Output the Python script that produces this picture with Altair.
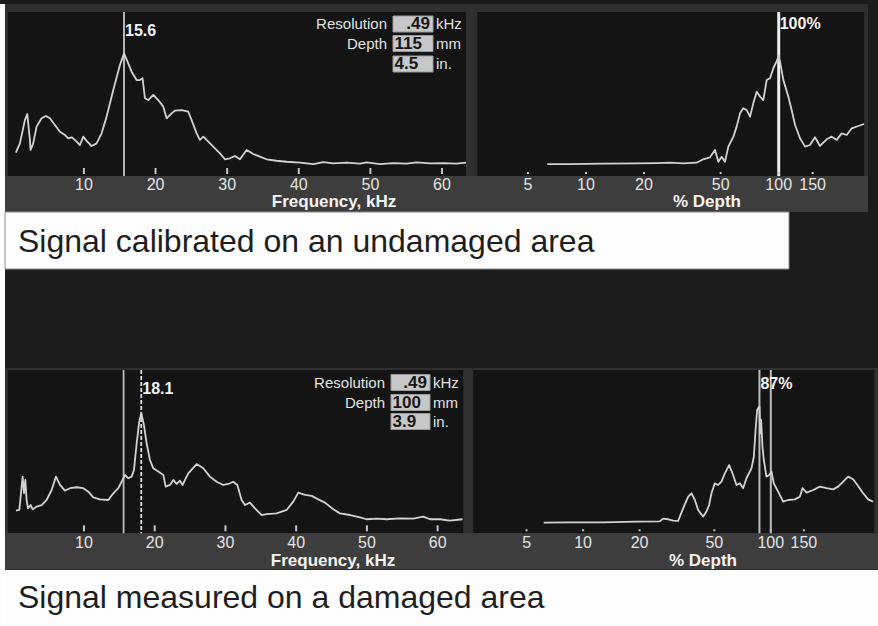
import altair as alt
import pandas as pd

W, H = 878, 626
FONT = "Liberation Sans"

# ---- calibrated signal (undamaged area): frequency spectrum ----
cal_freq = [0.50, 1.06, 1.76, 2.09, 2.46, 2.55, 2.92, 3.39, 4.09, 4.69,
            5.25, 5.95, 6.65, 7.35, 7.81, 8.28, 8.74, 9.44, 9.91, 10.47,
            11.07, 11.77, 12.47, 13.17, 14.10, 15.03, 15.6, 16.19, 16.66, 17.36,
            17.82, 18.19, 18.52, 18.99, 19.68, 20.38, 21.08, 21.55, 22.24, 22.71,
            23.64, 24.57, 25.04, 25.74, 26.20, 26.67, 27.37, 28.30, 28.99, 29.69,
            30.39, 31.09, 31.79, 32.72, 33.65, 34.58, 35.51, 36.91, 38.31, 40.17,
            42.03, 43.43, 44.82, 46.69, 48.55, 49.48, 51.34, 53.21, 55.07, 56.46,
            58.33, 60.19, 62.05, 63.35]
cal_amp = [14.2, 19.9, 34.1, 37.8, 22.0, 15.9, 19.9, 30.1, 35.2, 36.6,
           35.2, 31.1, 27.0, 25.0, 23.0, 23.6, 22.0, 18.9, 24.0, 20.9,
           18.3, 19.9, 26.0, 36.2, 52.4, 67.7, 74.8, 68.7, 63.6, 58.5,
           58.5, 59.6, 47.4, 46.3, 49.4, 46.3, 42.3, 35.2, 38.2, 39.8,
           40.2, 39.2, 34.1, 26.0, 22.0, 24.0, 20.9, 16.9, 13.8, 10.2,
           10.8, 12.2, 10.2, 15.9, 13.4, 11.8, 10.2, 9.3, 8.7, 8.1,
           7.3, 8.5, 7.7, 8.1, 7.5, 8.3, 7.3, 7.9, 7.5, 8.3,
           7.7, 7.9, 7.5, 8.1]

# ---- calibrated signal: % depth ----
cal_depth = [6.30, 8.26, 12.3, 18.3, 23.3, 27.3, 32.0, 37.5, 40.6, 44.0,
             46.7, 48.6, 50.6, 52.6, 54.8, 58.2, 60.5, 63.0, 65.5, 68.2,
             71.0, 73.8, 76.9, 80.0, 83.2, 86.6, 90.1, 93.8, 97.6, 100,
             102, 105.7, 112.2, 116.7, 121.6, 129.0, 137.0, 145.3, 154.2, 163.7,
             177.4, 188.3, 199.9, 212.2, 225.3, 239.2, 259.0, 277]
cal_depth_amp = [7.3, 7.3, 7.5, 7.7, 7.9, 8.1, 7.7, 8.1, 10.2, 11.4,
                 15.9, 8.7, 11.8, 8.7, 17.9, 24.0, 30.1, 38.2, 41.3, 40.2,
                 36.2, 44.3, 51.4, 48.4, 46.3, 58.5, 59.6, 65.7, 70.0, 73.2,
                 68.7, 58.5, 48.4, 40.2, 31.1, 23.0, 17.9, 18.9, 23.6, 18.3,
                 22.4, 24.0, 22.0, 26.0, 25.0, 29.1, 30.5, 31.7]

# ---- measured signal (damaged area): frequency spectrum ----
dmg_freq = [0.39, 0.86, 1.19, 1.33, 1.52, 1.71, 1.89, 2.08, 2.46, 2.74,
            3.31, 4.02, 4.72, 5.43, 6.04, 6.61, 7.31, 8.02, 8.96, 9.91,
            10.61, 11.32, 12.26, 13.44, 14.15, 14.85, 15.33, 15.80, 16.27, 16.74,
            17.07, 17.45, 17.82, 18.1, 18.48, 18.86, 19.33, 19.80, 20.51, 21.22,
            21.55, 22.16, 22.63, 23.10, 23.57, 23.95, 24.28, 24.75, 25.93, 26.87,
            27.81, 28.76, 29.70, 30.41, 31.11, 31.68, 32.29, 32.76, 33.47, 34.18,
            35.12, 35.82, 37.24, 38.65, 39.59, 40.30, 41.24, 42.19, 43.13, 44.07,
            45.25, 46.19, 47.61, 49.02, 49.96, 51.38, 52.79, 54.67, 56.56, 57.97,
            58.92, 60.33, 61.74, 63.53]
dmg_amp = [13.9, 14.3, 28.6, 34.7, 24.5, 32.7, 20.4, 15.3, 17.3, 14.7,
           16.3, 17.3, 20.4, 26.5, 34.7, 29.6, 26.1, 27.6, 28.2, 27.6,
           25.5, 22.0, 20.8, 20.4, 24.5, 27.6, 31.6, 35.7, 33.7, 34.7,
           38.8, 55.1, 68.4, 73.5, 66.3, 55.1, 44.9, 39.8, 37.8, 35.7,
           28.6, 29.6, 32.7, 30.2, 32.2, 29.6, 32.7, 36.7, 42.4, 39.8,
           34.7, 31.6, 29.6, 30.2, 31.6, 29.6, 20.4, 17.3, 18.8, 15.3,
           11.2, 11.8, 12.2, 14.3, 19.4, 24.9, 23.5, 22.9, 20.8, 18.8,
           14.7, 12.2, 11.2, 9.8, 8.6, 9.0, 8.6, 9.2, 9.0, 10.2,
           8.6, 8.6, 7.8, 8.6]

# ---- measured signal: % depth ----
dmg_depth = [6.17, 8.49, 12.8, 19.2, 25.6, 26.7, 28.4, 30.2, 32.1, 34.1,
             36.3, 37.8, 39.4, 41.0, 43.6, 45.4, 46.9, 48.3, 50.3, 52.4,
             54.6, 56.9, 60.0, 63.0, 65.6, 68.4, 71.2, 74.2, 78.9, 81.2,
             83.2, 84.6, 85.5, 87.0, 88.0, 88.8, 90.3, 91.8, 94.8, 98.0,
             100.9, 103.7, 109.4, 116.4, 123.7, 134.2, 142.8, 147.5, 155.0, 168.2,
             182.5, 198.1, 214.9, 228.5, 242.9, 258.2, 274.6, 291.9, 310.4, 330.0,
             350.8]
dmg_depth_amp = [6.5, 6.7, 6.7, 7.1, 7.3, 9.0, 8.6, 7.8, 7.6, 15.3,
                 22.4, 24.5, 20.4, 14.3, 10.2, 13.3, 17.3, 24.5, 30.6, 29.6,
                 31.6, 36.7, 41.8, 35.7, 29.6, 30.6, 27.6, 33.7, 39.8, 46.9,
                 65.3, 75.5, 76.5, 77.6, 61.2, 69.4, 53.1, 44.9, 34.7, 35.7,
                 37.8, 30.6, 25.5, 19.4, 20.4, 20.8, 22.4, 27.6, 24.9, 26.5,
                 28.6, 27.6, 26.9, 28.6, 31.6, 34.7, 33.1, 29.0, 24.5, 20.8,
                 19.4]

freq_ticks = [10, 20, 30, 40, 50, 60]
depth_ticks = [5, 10, 20, 50, 100, 150]

# readouts shown in the info block of each spectrum
info_labels = ["Resolution", "Depth", ""]
info_units = ["kHz", "mm", "in."]
cal_info = [".49", "115", "4.5"]
dmg_info = [".49", "100", "3.9"]

# cursor positions
cal_peak_freq, cal_peak_depth = 15.6, 100
dmg_peak_freq, dmg_peak_depth = 18.1, 87

captions = ["Signal calibrated on an undamaged area", "Signal measured on a damaged area"]

# ---------------------------------------------------------------- layout
panels = {
    "cal_f": dict(domain=[-0.6, 63.35], rng=[8, 466], top=12, bottom=176, log=False),
    "cal_d": dict(domain=[2.73, 278], rng=[477.3, 864.3], top=12, bottom=176, log=True),
    "dmg_f": dict(domain=[-0.74, 63.63], rng=[8, 463.3], top=370, bottom=533.3, log=False),
    "dmg_d": dict(domain=[2.60, 356], rng=[473.3, 874.3], top=370, bottom=533.3, log=True),
}

one = pd.DataFrame({"k": [0]})


def xscale(p):
    kw = dict(domain=p["domain"], range=p["rng"], nice=False, zero=False)
    if p["log"]:
        kw["type"] = "log"
    return alt.Scale(**kw)


def yscale(p):
    return alt.Scale(domain=[0, 100], range=[p["bottom"], p["top"]], nice=False, zero=False)


def box(x, x2, y, y2, fill, stroke=None, sw=1):
    kw = dict(color=fill)
    if stroke:
        kw.update(stroke=stroke, strokeWidth=sw)
    return alt.Chart(one).mark_rect(**kw).encode(
        x=alt.value(x), x2=alt.value(x2), y=alt.value(y), y2=alt.value(y2))


def label(text, x, y, size, color, weight="normal", align="left"):
    return alt.Chart(one).mark_text(
        text=text, font=FONT, fontSize=size, color=color, fontWeight=weight,
        align=align, baseline="middle").encode(x=alt.value(x), y=alt.value(y))


def curve(p, xs, ys):
    df = pd.DataFrame({"x": xs, "a": ys})
    return alt.Chart(df).mark_line(
        color="#d2d2d2", strokeWidth=1.8, strokeJoin="round").encode(
        x=alt.X("x:Q", scale=xscale(p), axis=None),
        y=alt.Y("a:Q", scale=yscale(p), axis=None))


def axis_ticks(p, values, tick_len, label_y):
    df = pd.DataFrame({"v": values, "t": [str(v) for v in values]})
    x = alt.X("v:Q", scale=xscale(p), axis=None)
    marks = alt.Chart(df).mark_rule(color="#c4c4c4", strokeWidth=2).encode(
        x=x, y=alt.value(p["bottom"] - 2 - tick_len), y2=alt.value(p["bottom"] - 2))
    text = alt.Chart(df).mark_text(
        font=FONT, fontSize=16, color="#e4e4e4", baseline="middle").encode(
        x=x, y=alt.value(label_y), text="t:N")
    return [marks, text]


def cursor(p, value, color, width, dash=None):
    df = pd.DataFrame({"v": [value]})
    kw = dict(color=color, strokeWidth=width)
    if dash:
        kw["strokeDash"] = dash
    return alt.Chart(df).mark_rule(**kw).encode(
        x=alt.X("v:Q", scale=xscale(p), axis=None),
        y=alt.value(p["top"]), y2=alt.value(p["bottom"]))


def cursor_label(p, value, text, y):
    df = pd.DataFrame({"v": [value], "t": [text]})
    return alt.Chart(df).mark_text(
        font=FONT, fontSize=16, fontWeight="bold", color="#f4f4f4",
        align="left", baseline="middle", dx=1).encode(
        x=alt.X("v:Q", scale=xscale(p), axis=None), y=alt.value(y), text="t:N")


def info_block(rows_y, box_x, label_right, unit_left, values):
    out = []
    for i, (yc, name, unit, val) in enumerate(zip(rows_y, info_labels, info_units, values)):
        out.append(box(box_x[0], box_x[1], yc - 8, yc + 8, "#c7c7c7", "#9a9a9a", 1))
        if name:
            out.append(label(name, label_right, yc, 15, "#e2e2e2", align="right"))
        if i == 0:
            out.append(label(val, box_x[1] - 3, yc, 17, "#151515", "bold", "right"))
        else:
            out.append(label(val, box_x[0] + 1.5, yc, 17, "#151515", "bold", "left"))
        out.append(label(unit, unit_left, yc, 15, "#e2e2e2"))
    return out


layers = []

# frames, plot wells and axis bands
layers += [
    box(0, 5, 4, H, "#ffffff"),
    box(5, 868, 4, 212, "#2f2f2f"),
    box(panels["cal_f"]["rng"][0], panels["cal_f"]["rng"][1], 12, 176, "#141414"),
    box(panels["cal_d"]["rng"][0], panels["cal_d"]["rng"][1], 12, 176, "#141414"),
    box(5, 868, 176, 212, "#3d3d3d"),
    box(5, 789, 212, 269, "#fdfdfd", "#8a8a8a", 1),
    box(5, W, 368, 570, "#2f2f2f"),
    box(panels["dmg_f"]["rng"][0], panels["dmg_f"]["rng"][1], 370, 533.3, "#141414"),
    box(panels["dmg_d"]["rng"][0], panels["dmg_d"]["rng"][1], 370, 533.3, "#141414"),
    box(5, W, 533.3, 569, "#3d3d3d"),
    box(5, W, 570, H, "#fdfdfd"),
]

# cursors behind the traces
pf, pd_, qf, qd = panels["cal_f"], panels["cal_d"], panels["dmg_f"], panels["dmg_d"]
layers += [
    cursor(pf, cal_peak_freq, "#b4b4b4", 2),
    cursor(pd_, cal_peak_depth, "#eeeeee", 3),
    cursor(qf, cal_peak_freq, "#bdbdbd", 1.8),
    cursor(qf, dmg_peak_freq, "#dddddd", 1.8, [4, 2]),
    cursor(qd, dmg_peak_depth, "#bdbdbd", 2),
    cursor(qd, cal_peak_depth, "#bdbdbd", 2),
]

# traces
layers += [
    curve(pf, cal_freq, cal_amp),
    curve(pd_, cal_depth, cal_depth_amp),
    curve(qf, dmg_freq, dmg_amp),
    curve(qd, dmg_depth, dmg_depth_amp),
]

# axes drawn inside the grey bands
layers += axis_ticks(pf, freq_ticks, 6, 184.5)
layers += axis_ticks(pd_, depth_ticks, 2, 184.5)
layers += axis_ticks(qf, freq_ticks, 6, 542.5)
layers += axis_ticks(qd, depth_ticks, 2, 542.5)
layers += [
    label("Frequency, kHz", 334, 201.5, 17, "#f4f4f4", "bold", "center"),
    label("% Depth", 707, 201.5, 17, "#f4f4f4", "bold", "center"),
    label("Frequency, kHz", 333, 560.5, 17, "#f4f4f4", "bold", "center"),
    label("% Depth", 703, 560.5, 17, "#f4f4f4", "bold", "center"),
]

# cursor readouts
layers += [
    cursor_label(pf, cal_peak_freq, f"{cal_peak_freq}", 30.5),
    cursor_label(pd_, cal_peak_depth, f"{cal_peak_depth}%", 24),
    cursor_label(qf, dmg_peak_freq, f"{dmg_peak_freq}", 388.5),
    cursor_label(qd, dmg_peak_depth, f"{dmg_peak_depth}%", 384),
]

# resolution / depth info blocks
layers += info_block([24, 43.5, 64], (393, 433), 387, 436, cal_info)
layers += info_block([382.5, 402.5, 421.5], (391, 430), 385, 433, dmg_info)

# captions
layers += [
    label(captions[0], 18, 242, 32, "#1e1e1e"),
    label(captions[1], 18, 598, 32, "#1e1e1e"),
]

chart = alt.layer(*layers).resolve_scale(
    x="independent", y="independent"
).properties(
    width=W, height=H, padding=0,
    autosize=alt.AutoSizeParams(type="none"),
    background="#1b1b1b",
).configure_view(stroke=None)

chart.save("out.html", embed_options={"renderer": "svg", "actions": False})
